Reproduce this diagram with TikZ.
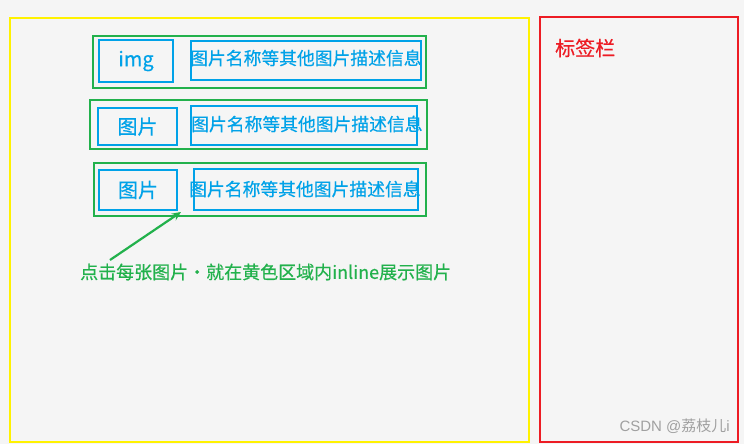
\documentclass[tikz,border=0pt]{standalone}
\usepackage{fontspec}
\setmainfont[FakeBold=0.6,AutoFakeBold=0.6]{Noto Sans CJK SC}
\newfontfamily\medfont[FakeBold=0.5]{Noto Sans CJK SC}
\newfontfamily\wmfont{Liberation Sans}
\newfontfamily\wmcjk{Noto Sans CJK SC}
\usetikzlibrary{arrows.meta}
\definecolor{bgc}{RGB}{245,245,245}
\definecolor{yel}{RGB}{255,242,0}
\definecolor{redc}{RGB}{237,28,36}
\definecolor{grn}{RGB}{34,177,76}
\definecolor{blu}{RGB}{0,162,232}
\definecolor{wm}{RGB}{160,160,160}
\tikzset{
  area/.style={draw, line width=2pt, inner sep=0pt, anchor=north west},
  rowbox/.style={draw=grn, line width=2pt, inner sep=0pt, anchor=north west},
  imgbox/.style={draw=blu, line width=2pt, inner sep=0pt, anchor=north west, text=blu, font=\medfont\fontsize{20}{22}\selectfont},
  descbox/.style={draw=blu, line width=2pt, inner sep=0pt, anchor=north west},
  desctext/.style={text=blu, inner sep=0pt, font=\medfont\fontsize{17.8}{19}\selectfont},
}
\begin{document}
\begin{tikzpicture}[x=1pt,y=-1pt]
\fill[bgc] (0,0) rectangle (744,444);
\useasboundingbox (0,0) rectangle (744,444);
% areas
\node[area, draw=yel, minimum width=519pt, minimum height=424pt] (yellow) at (9,17) {};
\node[area, draw=redc, minimum width=198pt, minimum height=425pt] (red) at (539,16) {};
\node[text=redc, anchor=west, inner sep=0pt, font=\medfont\fontsize{20}{22}\selectfont] (tag) at (555,48) {标签栏};
% rows
\node[rowbox, minimum width=333pt, minimum height=52pt] (row1) at (92,35) {};
\node[rowbox, minimum width=337pt, minimum height=49pt] (row2) at (89,99) {};
\node[rowbox, minimum width=332pt, minimum height=53pt] (row3) at (93,162) {};
% image boxes
\node[imgbox, minimum width=74pt, minimum height=42pt] (img1) at (98,39) {img};
\node[imgbox, minimum width=79pt, minimum height=37pt] (img2) at (97,107) {图片};
\node[imgbox, minimum width=78pt, minimum height=40pt] (img3) at (98,169) {图片};
% description boxes
\node[descbox, minimum width=230pt, minimum height=39pt] (d1) at (190,40) {};
\node[descbox, minimum width=226pt, minimum height=39pt] (d2) at (190,105) {};
\node[descbox, minimum width=224pt, minimum height=41pt] (d3) at (193,168) {};
\node[desctext, anchor=west] (t1) at (190,58) {图片名称等其他图片描述信息};
\node[desctext, anchor=west] (t2) at (191,124) {图片名称等其他图片描述信息};
\node[desctext, anchor=west] (t3) at (189,189) {图片名称等其他图片描述信息};
% annotation
\node[text=grn, anchor=west, inner sep=0pt, font=\medfont\fontsize{18}{20}\selectfont] (note) at (80,272) {点击每张图片・就在黄色区域内inline展示图片};
\coordinate (from) at (110,260);
\coordinate (tip) at (181,212);
\draw[grn, line width=2.2pt, -{Stealth[length=9pt,width=8pt]}] (from) -- (tip);
% watermark
\node[text=wm, anchor=east, inner sep=0pt, font=\fontsize{15}{17}\selectfont] (wmk) at (730,426) {\wmfont CSDN @\wmcjk 荔枝儿\wmfont i};
\end{tikzpicture}
\end{document}
